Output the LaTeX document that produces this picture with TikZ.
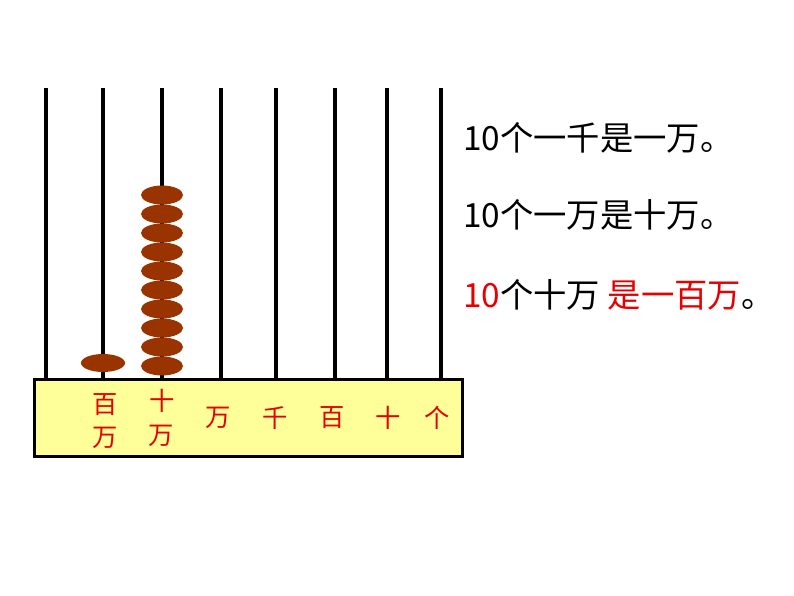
\documentclass[tikz,border=0pt]{standalone}
\usepackage{fontspec}
\newfontfamily\cjk{Noto Sans CJK SC}
\definecolor{bead}{RGB}{153,51,0}
\definecolor{basey}{RGB}{255,255,153}
\definecolor{redt}{RGB}{230,0,0}
\begin{document}
\begin{tikzpicture}[x=0.75pt,y=-0.75pt,
  rod/.style={line width=3pt},
  lab/.style={font=\cjk\fontsize{19}{21}\selectfont,text=redt,inner sep=0pt},
  sent/.style={font=\cjk\fontsize{25}{28}\selectfont,anchor=west,inner sep=0pt}]
\useasboundingbox (0,0) rectangle (794,596);
\foreach \x/\n in {46/a,103/b,162/c,221/d,276/e,335/f,387/g,441/h}
  \draw[rod] (\x,88) coordinate (t\n) -- (\x,378) coordinate (b\n);
\node[draw,line width=2.5pt,fill=basey,minimum width=428*0.75pt,minimum height=77*0.75pt,anchor=north west,inner sep=0pt] (base) at (33,378) {};
\fill[bead] (103,363) ellipse (22 and 9);
\foreach \i in {0,...,9}
  \fill[bead] (162,366-19*\i) ellipse (21 and 9.5);
\node[lab] (l1) at (105,405) {百};
\node[lab] (l2) at (105,438) {万};
\node[lab] (l3) at (162,401) {十};
\node[lab] (l4) at (161,436) {万};
\node[lab] (l5) at (218,418) {万};
\node[lab] (l6) at (275,418) {千};
\node[lab] (l7) at (332,418) {百};
\node[lab] (l8) at (388,418) {十};
\node[lab] (l9) at (437,418) {个};
\node[sent] (s1) at (463,138) {10个一千是一万。};
\node[sent] (s2) at (463,215) {10个一万是十万。};
\node[sent] (s3) at (463,295) {\textcolor{redt}{10}个十万 \textcolor{redt}{是一百万}。};
\end{tikzpicture}
\end{document}
